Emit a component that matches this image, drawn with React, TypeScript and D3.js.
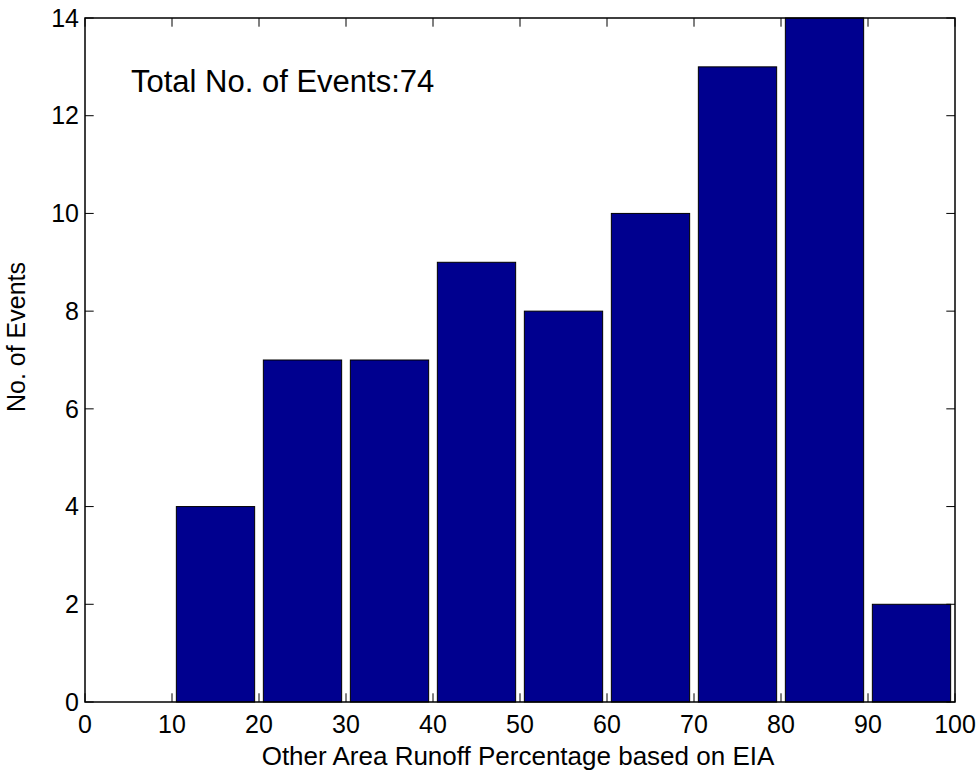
import React from "react";
import * as d3 from "d3";

const binCenters = [5, 15, 25, 35, 45, 55, 65, 75, 85, 95];
const counts = [0, 4, 7, 7, 9, 8, 10, 13, 14, 2];
const xTicks = [0, 10, 20, 30, 40, 50, 60, 70, 80, 90, 100];
const yTicks = [0, 2, 4, 6, 8, 10, 12, 14];
const annotation = "Total No. of Events:74";
const xLabel = "Other Area Runoff Percentage based on EIA";
const yLabel = "No. of Events";

const W = 980;
const H = 776;
const left = 85, right = 955, top = 18, bottom = 702;
const font = "Arial, 'Liberation Sans', Helvetica, sans-serif";

export default function App() {
  const x = d3.scaleLinear().domain([0, 100]).range([left, right]);
  const y = d3.scaleLinear().domain([0, 14]).range([bottom, top]);
  const barW = 9;
  const tickLen = 8.7;
  return (
    <div style={{ position: "fixed", left: 0, top: 0, width: W, height: H, background: "#fff" }}>
      <svg width={W} height={H} style={{ display: "block" }}>
        <rect x={0} y={0} width={W} height={H} fill="#fff" />
        {binCenters.map((c, i) => (
          <rect
            key={i}
            x={x(c - barW / 2)}
            y={y(counts[i])}
            width={x(c + barW / 2) - x(c - barW / 2)}
            height={y(0) - y(counts[i])}
            fill="#00008F"
            stroke="#000"
            strokeWidth={1}
          />
        ))}
        {xTicks.map((t) => (
          <g key={"xt" + t}>
            <line x1={x(t)} x2={x(t)} y1={bottom} y2={bottom - tickLen} stroke="#000" strokeWidth={1} />
            <line x1={x(t)} x2={x(t)} y1={top} y2={top + tickLen} stroke="#000" strokeWidth={1} />
            <text x={x(t)} y={733} textAnchor="middle" fontFamily={font} fontSize={25} fill="#000">
              {t}
            </text>
          </g>
        ))}
        {yTicks.map((t) => (
          <g key={"yt" + t}>
            <line x1={left} x2={left + tickLen} y1={y(t)} y2={y(t)} stroke="#000" strokeWidth={1} />
            <line x1={right} x2={right - tickLen} y1={y(t)} y2={y(t)} stroke="#000" strokeWidth={1} />
            <text x={79} y={y(t)} dy="0.35em" textAnchor="end" fontFamily={font} fontSize={25} fill="#000">
              {t}
            </text>
          </g>
        ))}
        <rect x={left} y={top} width={right - left} height={bottom - top} fill="none" stroke="#000" strokeWidth={1.5} />
        <text x={131} y={92} fontFamily={font} fontSize={31} fill="#000">
          {annotation}
        </text>
        <text x={(left + right) / 2 - 2} y={765} textAnchor="middle" fontFamily={font} fontSize={26} fill="#000">
          {xLabel}
        </text>
        <text
          transform={`translate(25, 337) rotate(-90)`}
          textAnchor="middle"
          fontFamily={font}
          fontSize={25}
          fill="#000"
        >
          {yLabel}
        </text>
      </svg>
    </div>
  );
}
